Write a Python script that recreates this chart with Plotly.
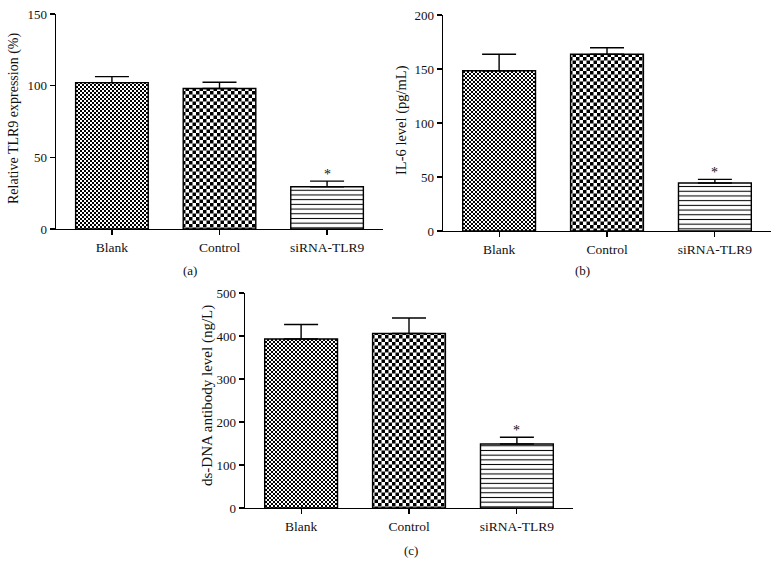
import plotly.graph_objects as go

# ---------------- data ----------------
categories = ["Blank", "Control", "siRNA-TLR9"]

tlr9_mean = [102.1, 98.0, 29.5]
tlr9_sem = [4.2, 4.4, 3.9]

il6_mean = [148.4, 163.6, 44.4]
il6_sem = [15.2, 6.1, 3.4]

dsdna_mean = [393.0, 405.7, 149.0]
dsdna_sem = [33.6, 36.3, 15.6]

sig_marks = ["", "", "*"]

panel_titles = ["Relative TLR9 expression (%)", "IL-6 level (pg/mL)", "ds-DNA antibody level (ng/L)"]
panel_tags = ["(a)", "(b)", "(c)"]
y_ranges = [[0, 150], [0, 200], [0, 500]]
y_dticks = [50, 50, 100]

# ---------------- style ----------------
FONT = "Liberation Serif"
W, H = 778, 562

def px_x(v):
    return v / W

def px_y(v):
    return 1 - v / H

panels = [
    dict(means=tlr9_mean, sems=tlr9_sem, xd=[px_x(56), px_x(383)], yd=[px_y(229), px_y(14)],
         title_xy=(px_x(14), px_y(118)), title_size=14, tag_xy=(px_x(190), px_y(271))),
    dict(means=il6_mean, sems=il6_sem, xd=[px_x(443), px_x(771)], yd=[px_y(231), px_y(15)],
         title_xy=(px_x(402), px_y(120)), title_size=14.5, tag_xy=(px_x(582), px_y(271))),
    dict(means=dsdna_mean, sems=dsdna_sem, xd=[px_x(245), px_x(573)], yd=[px_y(508), px_y(293)],
         title_xy=(px_x(207), px_y(396)), title_size=15, tag_xy=(px_x(411), px_y(550))),
]

fig = go.Figure()
annotations = []
layout_axes = {}

for i, p in enumerate(panels):
    n = "" if i == 0 else str(i + 1)
    xa, ya = "x" + n, "y" + n
    fig.add_trace(go.Bar(
        x=categories, y=p["means"],
        xaxis=xa, yaxis=ya,
        width=0.675,
        marker=dict(
            color="white",
            line=dict(color="black", width=1.4),
            pattern=dict(
                shape=[".", ".", "-"],
                size=[2.8, 5.0, 4.7],
                solidity=[0.5, 0.5, 0.22],
                fgcolor="black", bgcolor="white", fillmode="replace",
            ),
        ),
        error_y=dict(type="data", symmetric=False, array=p["sems"],
                     arrayminus=[0, 0, 0], color="black", thickness=1.4, width=17),
        showlegend=False, hoverinfo="skip",
    ))
    layout_axes["xaxis" + n] = dict(
        domain=p["xd"], anchor=ya, type="category", range=[-0.52, 2.52],
        showline=True, linecolor="black", linewidth=1.3,
        ticks="outside", ticklen=5, tickwidth=1.2, tickcolor="black",
        showgrid=False, zeroline=False, automargin=False,
        tickfont=dict(family=FONT, size=13.5, color="#111"),
    )
    layout_axes["yaxis" + n] = dict(
        domain=p["yd"], anchor=xa, range=y_ranges[i], dtick=y_dticks[i],
        showline=True, linecolor="black", linewidth=1.3,
        ticks="outside", ticklen=5, tickwidth=1.2, tickcolor="black",
        showgrid=False, zeroline=False, automargin=False,
        tickfont=dict(family=FONT, size=13, color="#111"),
    )
    # y title
    annotations.append(dict(
        text=panel_titles[i], xref="paper", yref="paper",
        x=p["title_xy"][0], y=p["title_xy"][1], textangle=-90,
        showarrow=False, xanchor="center", yanchor="middle",
        font=dict(family=FONT, size=p["title_size"], color="#111"),
    ))
    # panel tag
    annotations.append(dict(
        text=panel_tags[i], xref="paper", yref="paper",
        x=p["tag_xy"][0], y=p["tag_xy"][1],
        showarrow=False, xanchor="center", yanchor="middle",
        font=dict(family=FONT, size=13, color="#111"),
    ))
    # significance marks
    for c, m, s, mark in zip(categories, p["means"], p["sems"], sig_marks):
        if mark:
            annotations.append(dict(
                text=mark, xref=xa, yref=ya, x=c, y=m + s,
                showarrow=False, xanchor="center", yanchor="bottom", yshift=-3,
                font=dict(family=FONT, size=14, color="#111"),
            ))

fig.update_layout(
    width=W, height=H,
    margin=dict(l=0, r=0, t=0, b=0, pad=0, autoexpand=False),
    paper_bgcolor="white", plot_bgcolor="white",
    font=dict(family=FONT, size=13, color="#111"),
    annotations=annotations,
    bargap=0.3,
    **layout_axes,
)

post_script = r"""
document.body.style.margin = '0';
document.body.style.padding = '0';
var gd = document.getElementById('{plot_id}');
(function(){
  var NS = 'http://www.w3.org/2000/svg';
  var svg = gd.querySelector('svg.main-svg');
  var defs = svg.querySelector('defs');
  if(!defs){ defs = document.createElementNS(NS,'defs'); svg.insertBefore(defs, svg.firstChild); }
  function mk(id, a){
    var p = document.createElementNS(NS,'pattern');
    p.setAttribute('id', id);
    p.setAttribute('patternUnits','userSpaceOnUse');
    p.setAttribute('width', 2*a); p.setAttribute('height', 2*a);
    var bg = document.createElementNS(NS,'rect');
    bg.setAttribute('x',0); bg.setAttribute('y',0);
    bg.setAttribute('width',2*a); bg.setAttribute('height',2*a);
    bg.setAttribute('fill','white');
    p.appendChild(bg);
    [[0,0],[a,a]].forEach(function(o){
      var r = document.createElementNS(NS,'rect');
      r.setAttribute('x',o[0]); r.setAttribute('y',o[1]);
      r.setAttribute('width',a); r.setAttribute('height',a);
      r.setAttribute('fill','black');
      p.appendChild(r);
    });
    defs.appendChild(p);
  }
  mk('chkFine', 2);
  mk('chkCoarse', 3.5);
  var paths = gd.querySelectorAll('.barlayer .point path');
  paths.forEach(function(el, i){
    var k = i % 3;
    if(k === 0){ el.style.fill = 'url(#chkFine)'; }
    else if(k === 1){ el.style.fill = 'url(#chkCoarse)'; }
  });
})();
"""

fig.write_html("out.html", post_script=post_script,
               config={"displayModeBar": False, "staticPlot": True})
